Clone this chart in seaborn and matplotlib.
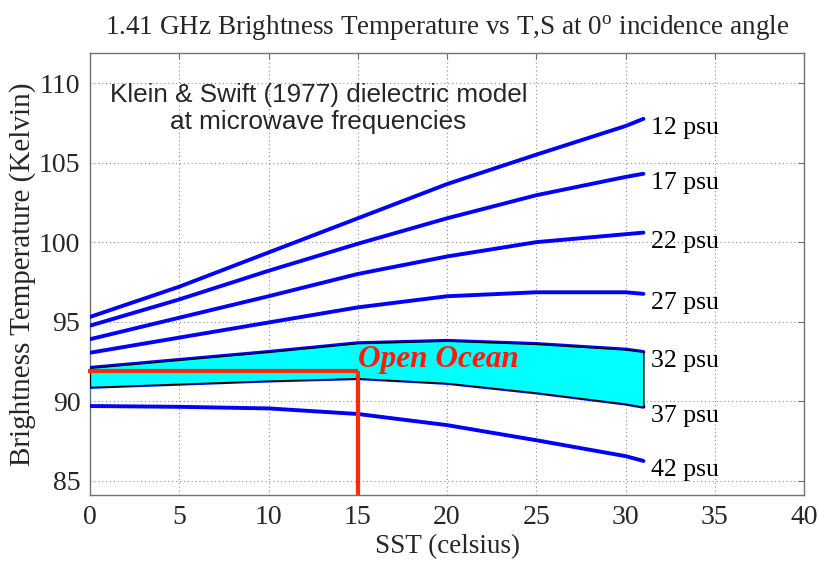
import numpy as np
import pandas as pd
import matplotlib
matplotlib.use("Agg")
import matplotlib.pyplot as plt
import seaborn as sns

# ---- data ----
sst = [0, 5, 10, 15, 20, 25, 30, 31]
tb_12 = [95.3, 97.2, 99.35, 101.5, 103.65, 105.5, 107.3, 107.75]
tb_17 = [94.75, 96.4, 98.2, 99.9, 101.5, 102.95, 104.1, 104.3]
tb_22 = [93.9, 95.25, 96.6, 98.0, 99.1, 100.0, 100.5, 100.6]
tb_27 = [93.05, 94.0, 94.95, 95.9, 96.6, 96.85, 96.85, 96.75]
tb_32 = [92.1, 92.6, 93.1, 93.65, 93.8, 93.6, 93.25, 93.1]
tb_37 = [90.9, 91.1, 91.3, 91.45, 91.15, 90.55, 89.85, 89.65]
tb_42 = [89.7, 89.65, 89.55, 89.2, 88.5, 87.55, 86.55, 86.25]
salinities = ["12 psu", "17 psu", "22 psu", "27 psu", "32 psu", "37 psu", "42 psu"]
series = [tb_12, tb_17, tb_22, tb_27, tb_32, tb_37, tb_42]

ref_sst = 15
ref_tb = 91.9

title = "1.41 GHz Brightness Temperature vs T,S at 0$^\\mathregular{o}$ incidence angle"
xlabel = "SST (celsius)"
ylabel = "Brightness Temperature (Kelvin)"
note = "Klein & Swift (1977) dielectric model\nat microwave frequencies"
band_label = "Open Ocean"
xticks = [0, 5, 10, 15, 20, 25, 30, 35, 40]
yticks = [85, 90, 95, 100, 105, 110]

rows = []
for name, vals in zip(salinities, series):
    for t, v in zip(sst, vals):
        rows.append({"SST": t, "TB": v, "salinity": name})
df = pd.DataFrame(rows)

sns.set_style("white")
plt.rcParams["font.family"] = ["Liberation Serif", "DejaVu Serif"]
plt.rcParams["mathtext.fontset"] = "custom"
plt.rcParams["mathtext.rm"] = "Liberation Serif"

fig = plt.figure(figsize=(8.18, 5.62), dpi=100)
ax = fig.add_axes([0.110, 0.119, 0.873, 0.787])

# grid
ax.set_axisbelow(True)
ax.grid(True, color="0.55", linestyle=(0, (1, 2.5)), linewidth=0.8)

sns.lineplot(data=df, x="SST", y="TB", hue="salinity",
             palette=["#0000ff"] * len(salinities), linewidth=2.8,
             legend=False, ax=ax, zorder=3)

# open ocean band
ax.fill_between(sst, tb_37, tb_32, facecolor="#00ffff", edgecolor="black",
                linewidth=1.0, zorder=4)

# reference red lines
ylo, yhi = 84.1, 111.9
ax.plot([-0.1, ref_sst], [ref_tb, ref_tb], color="#ff2a0a", linewidth=3.0,
        zorder=5, clip_on=False, solid_capstyle="butt")
ax.plot([ref_sst, ref_sst], [ref_tb, ylo], color="#ff2a0a", linewidth=3.0,
        zorder=5, solid_capstyle="butt")

# salinity labels
for name, vals in zip(salinities, series):
    ax.text(sst[-1] + 0.45, vals[-1] - 0.6, name, fontsize=18.5,
            va="center", ha="left", color="black", zorder=6)

ax.text(15.0, 92.6, band_label, fontsize=22.5, color="#ff1a0a",
        fontweight="bold", fontstyle="italic", va="center", ha="left", zorder=6)

ax.text(12.8, 108.4, note, fontsize=18.8, ha="center", va="center",
        family=["Liberation Sans", "DejaVu Sans"], linespacing=1.2, zorder=6)

ax.set_xlim(0, 40)
ax.set_ylim(ylo, yhi)
ax.set_xticks(xticks)
ax.set_yticks(yticks)
ax.tick_params(axis="both", which="both", direction="in", length=4,
               width=0.8, color="0.45", labelsize=20, top=True, right=True,
               pad=7)
for s in ax.spines.values():
    s.set_color("0.45")
    s.set_linewidth(1.0)
    s.set_visible(True)

ax.set_xlabel(xlabel, fontsize=19.5, labelpad=3)
ax.set_ylabel(ylabel, fontsize=21, labelpad=2)
ax.set_title(title, fontsize=19.5, pad=13)

fig.savefig("out.png", dpi=100)
